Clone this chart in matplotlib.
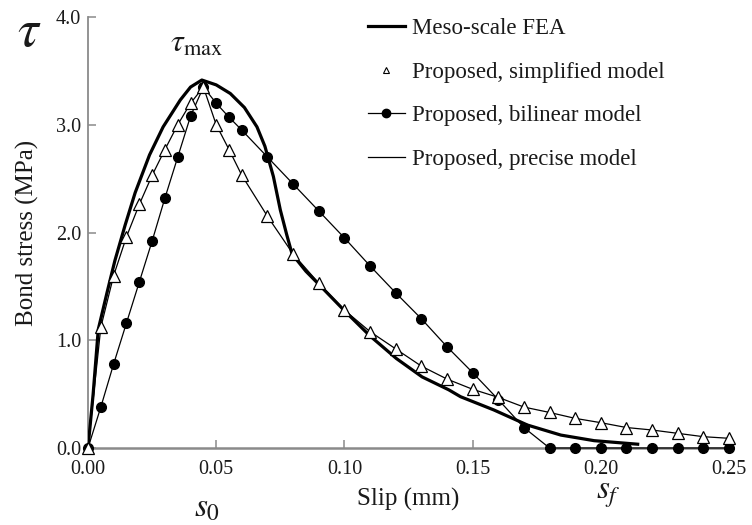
import matplotlib
matplotlib.use("Agg")
import matplotlib.pyplot as plt
from matplotlib.lines import Line2D

# ---------------- data ----------------
fea_x = [0, 0.002, 0.004, 0.0075, 0.0105, 0.0145, 0.0184, 0.024, 0.0293, 0.036, 0.040, 0.0444,
         0.050, 0.0555, 0.061, 0.0659, 0.069, 0.0723, 0.075, 0.0775, 0.0796, 0.085, 0.0904,
         0.1004, 0.110, 0.1203, 0.1303, 0.1407, 0.1453, 0.1583, 0.1714, 0.1844, 0.1974, 0.215]
fea_y = [0, 0.50, 1.10, 1.45, 1.74, 2.07, 2.37, 2.72, 2.98, 3.23, 3.35, 3.415,
         3.37, 3.29, 3.16, 2.98, 2.80, 2.52, 2.21, 1.98, 1.80, 1.64, 1.51,
         1.265, 1.04, 0.83, 0.66, 0.54, 0.476, 0.353, 0.213, 0.12, 0.068, 0.034]

simp_x = [0, 0.005, 0.010, 0.015, 0.020, 0.025, 0.030, 0.035, 0.040, 0.045, 0.050, 0.055, 0.060,
          0.070, 0.080, 0.090, 0.100, 0.110, 0.120, 0.130, 0.140, 0.150, 0.160, 0.170, 0.180,
          0.190, 0.200, 0.210, 0.220, 0.230, 0.240, 0.250]
simp_y = [0, 1.12, 1.60, 1.96, 2.26, 2.53, 2.77, 3.00, 3.20, 3.35, 3.00, 2.77, 2.53,
          2.15, 1.80, 1.53, 1.28, 1.08, 0.92, 0.76, 0.64, 0.545, 0.47, 0.38, 0.33,
          0.275, 0.235, 0.19, 0.167, 0.136, 0.105, 0.09]

bil_x = [0, 0.005, 0.010, 0.015, 0.020, 0.025, 0.030, 0.035, 0.040, 0.045, 0.050, 0.055, 0.060,
         0.070, 0.080, 0.090, 0.100, 0.110, 0.120, 0.130, 0.140, 0.150, 0.160, 0.170, 0.180,
         0.190, 0.200, 0.210, 0.220, 0.230, 0.240, 0.250]
bil_y = [0, 0.38, 0.78, 1.16, 1.54, 1.92, 2.32, 2.70, 3.08, 3.35, 3.20, 3.07, 2.95,
         2.70, 2.45, 2.20, 1.95, 1.69, 1.44, 1.20, 0.94, 0.70, 0.45, 0.19, 0,
         0, 0, 0, 0, 0, 0, 0]

prec_x = [0, 0.005, 0.010, 0.015, 0.020, 0.025, 0.030, 0.035, 0.040, 0.045, 0.050, 0.055, 0.060,
          0.070, 0.080, 0.090, 0.100, 0.110, 0.120, 0.130, 0.140, 0.150, 0.160, 0.170, 0.180,
          0.190, 0.200, 0.210, 0.220, 0.230, 0.240, 0.250]
prec_y = [0, 1.12, 1.60, 1.96, 2.26, 2.53, 2.77, 3.00, 3.20, 3.35, 3.00, 2.77, 2.53,
          2.15, 1.80, 1.53, 1.28, 1.08, 0.92, 0.76, 0.64, 0.545, 0.47, 0.38, 0.33,
          0.275, 0.235, 0.19, 0.167, 0.136, 0.105, 0.09]

x_ticks = [0.00, 0.05, 0.10, 0.15, 0.20, 0.25]
x_ticklabels = ["0.00", "0.05", "0.10", "0.15", "0.20", "0.25"]
y_ticks = [0.0, 1.0, 2.0, 3.0, 4.0]
y_ticklabels = ["0.0", "1.0", "2.0", "3.0", "4.0"]

labels = ["Meso-scale FEA", "Proposed, simplified model",
          "Proposed, bilinear model", "Proposed, precise model"]

# ---------------- style ----------------
plt.rcParams['font.family'] = ['Liberation Serif', 'DejaVu Serif']
plt.rcParams['mathtext.fontset'] = 'stix'
txt = '#1a1a1a'
spine_c = '#8a8a8a'

W, H = 752, 525
fig = plt.figure(figsize=(W / 100, H / 100), dpi=100)
ax = fig.add_axes([88 / W, 1 - 448 / H, (729 - 88) / W, (448 - 17) / H])

ax.plot(prec_x, prec_y, color='black', lw=0.9, zorder=2)
ax.plot(fea_x, fea_y, color='black', lw=2.3, zorder=3, solid_capstyle='butt')
ax.plot(bil_x, bil_y, color='black', lw=0.9, marker='o', ms=7, mfc='black', mec='black',
        zorder=4, clip_on=False)
ax.plot(simp_x, simp_y, ls='none', marker='^', ms=8, mfc='white', mec='black', mew=0.9,
        zorder=5, clip_on=False)

ax.set_xlim(0, 0.25)
ax.set_ylim(0, 4.0)
for s in ['top', 'right']:
    ax.spines[s].set_visible(False)
ax.spines['left'].set_color(spine_c)
ax.spines['left'].set_linewidth(1.3)
ax.spines['bottom'].set_color(spine_c)
ax.spines['bottom'].set_linewidth(1.8)

ax.set_xticks(x_ticks)
ax.set_xticklabels(x_ticklabels)
ax.set_yticks(y_ticks)
ax.set_yticklabels(y_ticklabels)
ax.tick_params(direction='in', length=6, width=1.1, color=spine_c, labelsize=14.5,
               labelcolor=txt)
ax.tick_params(axis='x', pad=9)
ax.tick_params(axis='y', pad=5)

ax.set_xlabel("Slip (mm)", fontsize=18, color=txt, labelpad=6)
ax.set_ylabel("Bond stress (MPa)", fontsize=18, color=txt, labelpad=12)

handles = [
    Line2D([], [], color='black', lw=2.3),
    Line2D([], [], ls='none', marker='^', ms=5, mfc='white', mec='black', mew=0.8),
    Line2D([], [], color='black', lw=0.9, marker='o', ms=6, mfc='black'),
    Line2D([], [], color='black', lw=0.9),
]
leg = fig.legend(handles, labels, loc='upper left', bbox_to_anchor=(368 / W, 1 - 18 / H),
                 frameon=False, fontsize=16.5, handlelength=1.6, handletextpad=0.3,
                 labelspacing=0.98, borderpad=0, borderaxespad=0)
for t in leg.get_texts():
    t.set_color(txt)

fig.text(29 / W, 1 - 33 / H, r'$\tau$', fontsize=38, ha='center', va='center', color=txt)
fig.text(197 / W, 1 - 44 / H, r'$\tau_{\mathrm{max}}$', fontsize=23, ha='center', va='center',
         color=txt)
fig.text(207 / W, 1 - 508 / H, r'$s_0$', fontsize=24, ha='center', va='center', color=txt)
fig.text(608 / W, 1 - 495 / H, r'$s_f$', fontsize=24, ha='center', va='center', color=txt)

fig.savefig("out.png", dpi=100)
